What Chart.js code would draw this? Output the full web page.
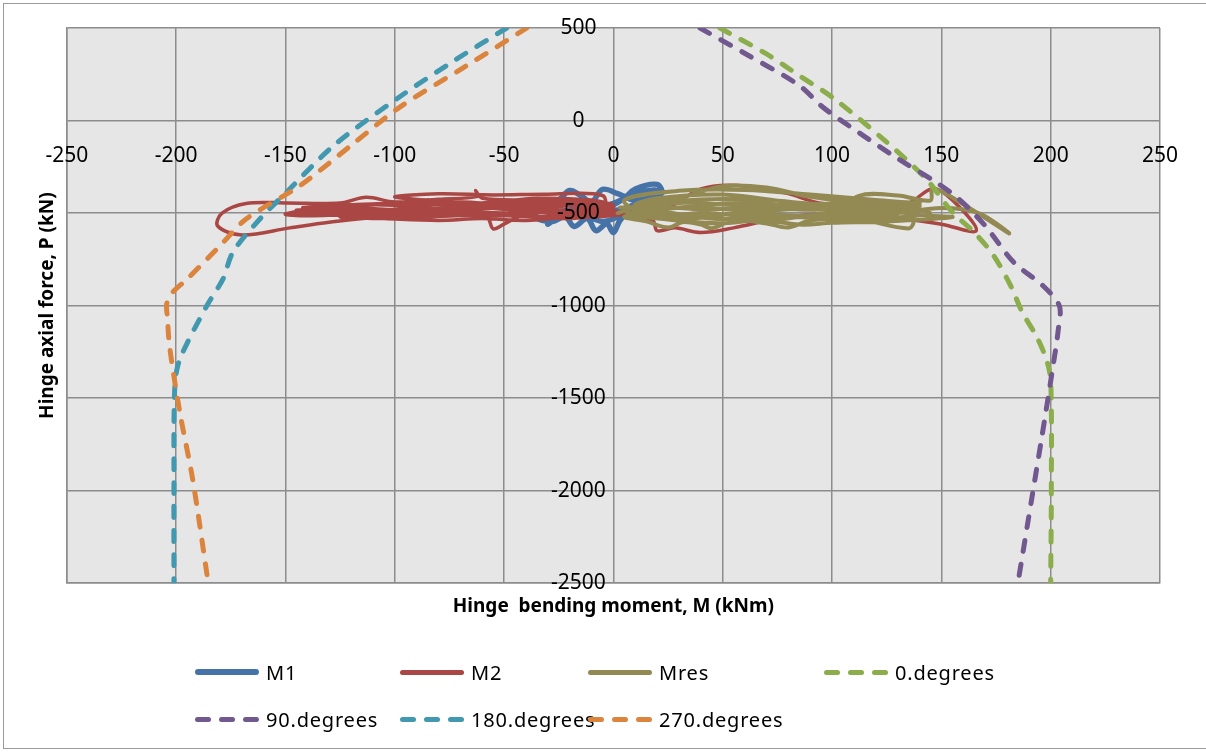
<!doctype html>
<html>
<head>
    <title>Hinge interaction diagram</title>
    <script src="https://cdn.jsdelivr.net/npm/chart.js"></script>
    <style>
        body { margin: 0; background: #fff; }
        #wrap { position: relative; width: 1206px; height: 753px; overflow: hidden; }
        #frame { position: absolute; left: 3px; top: 3px; width: 1220px; height: 746px; border: 1.5px solid #9a9a9a; box-sizing: border-box; }
        #legend { position: absolute; left: 195px; top: 658px; display: grid;
                  grid-template-columns: 205px 188px 236px 200px; row-gap: 19px;
                  font-family: "Noto Sans", sans-serif; font-size: 20px; color: #000; letter-spacing: 0.8px; }
        .item { display: flex; align-items: center; height: 28px; white-space: nowrap; }
        .sample { display: flex; width: 64px; margin-right: 7px; }
        .sample span { display: block; height: 5px; border-radius: 3px; }
    </style>
</head>
<body>
<div id="wrap">
    <div id="frame"></div>
    <canvas id="grafico"></canvas>
    <div id="legend"></div>
</div>

<script>
    // eixos: valores dos ticks
    var xTickValues = [-250, -200, -150, -100, -50, 0, 50, 100, 150, 200, 250];
    var yTickValues = [500, 0, -500, -1000, -1500, -2000, -2500];

    // historico de esforcos [M (kNm), P (kN)]
    var m1 = [[-2,-470],[5,-420],[10,-370],[20,-345],[22,-395],[10,-430],[2,-395],[-5,-372],[-10,-440],
        [-15,-405],[-20,-378],[-25,-430],[-33,-470],[-36,-520],[-28,-545],[-22,-520],[-18,-572],[-12,-530],
        [-8,-595],[-3,-558],[0,-605],[3,-540],[8,-480],[15,-450],[5,-505],[-5,-545],[-15,-500],[-25,-492],
        [-30,-560],[-20,-482],[-10,-470],[0,-448],[10,-392],[20,-380],[8,-462],[-2,-495]];

    var m2 = [[0,-470],[-15,-455],[-30,-470],[-48,-450],[-65,-470],[-82,-455],[-100,-480],[-120,-470],
        [-140,-490],[-148,-500],[-135,-510],[-115,-500],[-95,-515],[-75,-500],[-58,-520],[-55,-585],[-50,-560],
        [-40,-505],[-20,-490],[0,-495],[-10,-445],[-35,-430],[-60,-420],[-63,-378],[-62,-410],[-80,-425],
        [-100,-440],[-113,-415],[-125,-445],[-150,-445],[-168,-448],[-179,-500],[-181,-570],[-170,-618],
        [-148,-580],[-130,-550],[-110,-525],[-85,-520],[-60,-510],[-35,-520],[-15,-505],[0,-480],[-20,-460],
        [-45,-465],[-70,-485],[-90,-470],[-110,-490],[-128,-480],[-142,-470],[-120,-455],[-95,-445],[-75,-450],
        [-50,-480],[-30,-500],[-10,-520],[10,-500],[25,-470],[40,-370],[55,-350],[79,-392],[94,-445],[115,-460],
        [135,-445],[146,-368],[155,-430],[166,-595],[150,-560],[135,-535],[115,-520],[95,-505],[75,-530],
        [55,-580],[40,-605],[28,-580],[20,-595],[18,-540],[5,-500],[-10,-470],[-40,-440],[-70,-460],[-100,-500],
        [-125,-520],[-105,-530],[-80,-540],[-60,-530],[-40,-540],[-20,-520],[0,-500],[-20,-530],[-40,-510],
        [-60,-495],[-80,-510],[-100,-525],[-120,-510],[-140,-515],[-150,-505],[-130,-470],[-110,-455],
        [-90,-460],[-70,-440],[-50,-455],[-30,-445],[-10,-460],[0,-470],[-25,-485],[-55,-470],[-85,-490],
        [-115,-480],[-145,-485],[-125,-500],[-95,-495],[-65,-505],[-35,-495],[-5,-490],[-5,-405],[-30,-398],
        [-55,-402],[-80,-396],[-100,-412],[-85,-430],[-60,-445],[-35,-420],[-10,-430],[0,-455]];

    var mres = [[2,-500],[15,-450],[30,-420],[50,-355],[70,-362],[90,-412],[110,-440],[130,-468],[140,-480],
        [120,-500],[100,-482],[80,-462],[60,-442],[40,-460],[20,-482],[5,-520],[15,-545],[25,-578],[32,-548],
        [40,-562],[45,-582],[55,-540],[70,-556],[80,-578],[90,-540],[110,-530],[135,-583],[137,-540],[120,-510],
        [105,-505],[112,-408],[130,-405],[145,-432],[146,-366],[160,-452],[181,-610],[167,-500],[150,-472],
        [130,-500],[100,-520],[75,-510],[50,-532],[30,-510],[10,-490],[20,-470],[45,-480],[65,-468],[90,-482],
        [115,-470],[140,-510],[155,-522],[125,-545],[100,-552],[85,-562],[60,-520],[40,-500],[20,-522],[5,-482],
        [25,-440],[45,-425],[70,-430],[95,-452],[120,-455],[145,-500],[120,-530],[90,-525],[60,-500],[35,-530],
        [15,-510],[5,-430],[30,-380],[60,-375],[90,-400],[120,-430],[140,-450],[110,-470],[80,-440],[50,-400],
        [20,-420],[10,-460],[40,-520],[70,-540],[100,-500],[130,-520],[110,-545],[80,-520],[50,-555],[25,-535],
        [8,-505],[35,-470],[65,-490],[95,-470],[125,-485],[140,-460],[115,-445],[85,-455],[55,-455],[30,-445],
        [12,-470],[3,-470]];

    // curvas de interacao (superficie de escoamento)
    var deg0 = [[48.7,500],[70,360],[85,243],[101,118],[125,-117],[143,-315],[155,-495],[165,-604],[174,-731],
        [182,-900],[187,-1036],[193.5,-1166],[198,-1290],[200,-1400],[200.3,-2000],[200,-2500]];
    var deg90 = [[39.6,500],[62,350],[85,190],[95,80],[103,10],[128,-190],[147.5,-333],[158,-424],[170,-568],
        [183,-765],[196.5,-893],[204,-1002],[203.5,-1128],[200.6,-1363],[196,-1707],[191.5,-2032],[185,-2500]];
    var deg180 = [[-48.8,500],[-72,330],[-99,118],[-128,-136],[-149.4,-386],[-161.7,-532],[-174,-711],
        [-178.6,-857],[-186,-1002],[-198.3,-1290],[-200.6,-1436],[-201,-2000],[-201,-2500]];
    var deg270 = [[-39.6,500],[-68,290],[-98,70],[-119.5,-130],[-143.4,-352],[-168,-532],[-180,-678],
        [-195,-857],[-201.5,-927],[-204.3,-990],[-204,-1060],[-203,-1220],[-198.3,-1577],[-192.4,-1940],[-185.3,-2500]];

    function pontos(lista) {
        return lista.map(function (p) { return { x: p[0], y: p[1] }; });
    }

    function serie(nome, dados, cor, largura, tracejado, ordem) {
        return {
            label: nome,
            data: pontos(dados),
            showLine: true,
            borderColor: cor,
            backgroundColor: cor,
            borderWidth: largura,
            borderDash: tracejado ? [11, 13] : [],
            borderCapStyle: 'round',
            borderJoinStyle: 'round',
            pointRadius: 0,
            tension: tracejado ? 0.3 : 0.35,
            order: ordem
        };
    }

    var datasets = [
        serie('M1', m1, '#4572a7', 5.5, false, 7),
        serie('M2', m2, '#aa4643', 3.5, false, 6),
        serie('Mres', mres, '#938953', 4, false, 5),
        serie('0.degrees', deg0, '#8bad4b', 5, true, 4),
        serie('90.degrees', deg90, '#71588f', 5, true, 3),
        serie('180.degrees', deg180, '#4198af', 5, true, 2),
        serie('270.degrees', deg270, '#db843d', 5, true, 1)
    ];

    // fundo cinza da area do grafico
    var fundo = {
        id: 'fundo',
        beforeDraw: function (chart) {
            var a = chart.chartArea, ctx = chart.ctx;
            ctx.save();
            ctx.fillStyle = '#e6e6e6';
            ctx.fillRect(a.left, a.top, a.right - a.left, a.bottom - a.top);
            ctx.restore();
        }
    };

    // rotulos dos ticks junto aos eixos que cruzam em zero
    var rotulos = {
        id: 'rotulos',
        afterDatasetsDraw: function (chart) {
            var ctx = chart.ctx, sx = chart.scales.x, sy = chart.scales.y;
            var x0 = sx.getPixelForValue(0), y0 = sy.getPixelForValue(0);
            ctx.save();
            ctx.font = '21px "Noto Sans"';
            ctx.fillStyle = '#000';
            ctx.textBaseline = 'middle';
            ctx.textAlign = 'center';
            sx.ticks.forEach(function (t) {
                ctx.fillText(String(t.value), sx.getPixelForValue(t.value), y0 + 35);
            });
            sy.ticks.forEach(function (t) {
                ctx.fillText(String(t.value), x0 - 35, sy.getPixelForValue(t.value));
            });
            ctx.restore();
        }
    };

    var grade = { color: '#8c8c8c', lineWidth: 1.5, drawTicks: false };
    var borda = { color: '#8c8c8c', width: 1.5 };
    var fonteTitulo = { family: 'Noto Sans', size: 19, weight: 'bold', lineHeight: 1.2 };

    var grafico = new Chart(document.getElementById('grafico').getContext('2d'), {
        type: 'scatter',
        data: { datasets: datasets },
        options: {
            responsive: true,
            maintainAspectRatio: false,
            animation: false,
            layout: { padding: { left: 36, top: 28, right: 46, bottom: 135 } },
            plugins: { legend: { display: false }, tooltip: { enabled: false } },
            scales: {
                x: {
                    type: 'linear', min: -250, max: 250,
                    afterBuildTicks: function (s) { s.ticks = xTickValues.map(function (v) { return { value: v }; }); },
                    ticks: { display: false },
                    grid: grade, border: borda,
                    title: { display: true, text: 'Hinge  bending moment, M (kNm)', color: '#000',
                             font: fonteTitulo, padding: { top: 12, bottom: 0 } }
                },
                y: {
                    type: 'linear', min: -2500, max: 500,
                    afterBuildTicks: function (s) { s.ticks = yTickValues.map(function (v) { return { value: v }; }); },
                    ticks: { display: false },
                    grid: grade, border: borda,
                    title: { display: true, text: 'Hinge axial force, P (kN)', color: '#000',
                             font: fonteTitulo, padding: { top: 0, bottom: 8 } }
                }
            }
        },
        plugins: [fundo, rotulos]
    });

    // legenda em grade (4 colunas), como no original
    var legenda = document.getElementById('legend');
    grafico.data.datasets.forEach(function (ds) {
        var item = document.createElement('div');
        item.className = 'item';
        var amostra = document.createElement('div');
        amostra.className = 'sample';
        var tracos = ds.borderDash.length ? 3 : 1;
        for (var i = 0; i < tracos; i++) {
            var s = document.createElement('span');
            s.style.background = ds.borderColor;
            s.style.width = tracos === 1 ? '64px' : '16px';
            if (tracos > 1 && i < tracos - 1) s.style.marginRight = '8px';
            if (ds.label === 'M1') s.style.height = '6px';
            amostra.appendChild(s);
        }
        var texto = document.createElement('span');
        texto.textContent = ds.label;
        item.appendChild(amostra);
        item.appendChild(texto);
        legenda.appendChild(item);
    });
</script>
</body>
</html>
